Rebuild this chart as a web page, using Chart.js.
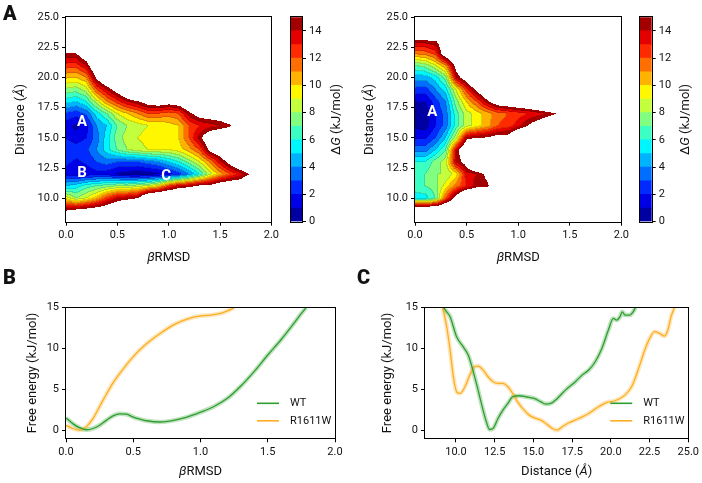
<!DOCTYPE html>
<html>
<head>
<meta charset="utf-8">
<script src="https://cdn.jsdelivr.net/npm/chart.js@4.4.1/dist/chart.umd.min.js"></script>
<style>
  body { margin: 0; background: #fff; }
  #wrap { position: relative; width: 702px; height: 483px; overflow: hidden; }
  #wrap canvas { position: absolute; }
  .panel { position: absolute; font-family: Roboto, 'Liberation Sans Narrow', sans-serif; font-weight: 900; font-size: 20px; line-height: 20px; color: #111; }
</style>
</head>
<body>
<div id="wrap">
  <canvas id="heatWT" width="282" height="268" style="left:0;top:0"></canvas>
  <canvas id="cbarWT" width="70" height="268" style="left:282px;top:0"></canvas>
  <canvas id="heatMut" width="282" height="268" style="left:350px;top:0"></canvas>
  <canvas id="cbarMut" width="70" height="268" style="left:632px;top:0"></canvas>
  <canvas id="lineRmsd" width="350" height="221" style="left:0;top:262px"></canvas>
  <canvas id="lineDist" width="352" height="221" style="left:350px;top:262px"></canvas>
  <div class="panel" style="left:3px;top:3px">A</div>
  <div class="panel" style="left:3px;top:267px">B</div>
  <div class="panel" style="left:357px;top:267px">C</div>
</div>
<script>
const FONT = "Roboto,'Liberation Sans Narrow',sans-serif";
Chart.defaults.font.family = FONT;
Chart.defaults.font.size = 11;
Chart.defaults.color = '#111';

// ---- free energy landscapes: rows are Distance (Å), columns are βRMSD ----
const rmsdCols = [0, 0.1, 0.2, 0.3, 0.4, 0.5, 0.6, 0.7, 0.8, 0.9, 1.0, 1.1, 1.2, 1.3, 1.4, 1.5, 1.6, 1.7, 1.8, 1.9, 2.0];
const distRows = [24, 23, 22, 21, 20, 19, 18, 17, 16, 15, 14, 13, 12, 11, 10, 9, 8];

// ΔG in kJ/mol, 20 = not sampled (white)
const wtGrid = [
  [20, 20, 20, 20, 20, 20, 20, 20, 20, 20, 20, 20, 20, 20, 20, 20, 20, 20, 20, 20, 20],
  [18, 18, 20, 20, 20, 20, 20, 20, 20, 20, 20, 20, 20, 20, 20, 20, 20, 20, 20, 20, 20],
  [15, 15, 17, 20, 20, 20, 20, 20, 20, 20, 20, 20, 20, 20, 20, 20, 20, 20, 20, 20, 20],
  [12.6, 12.5, 14, 18, 20, 20, 20, 20, 20, 20, 20, 20, 20, 20, 20, 20, 20, 20, 20, 20, 20],
  [10.2, 10, 11, 15.5, 18, 20, 20, 20, 20, 20, 20, 20, 20, 20, 20, 20, 20, 20, 20, 20, 20],
  [7.8, 7.5, 8.5, 12, 14, 16, 18, 20, 20, 20, 20, 20, 20, 20, 20, 20, 20, 20, 20, 20, 20],
  [5.4, 5, 6, 8.5, 11, 12.5, 14, 14.8, 16, 16.5, 16, 16.5, 18, 20, 20, 20, 20, 20, 20, 20, 20],
  [2.8, 2.4, 3.2, 5.5, 7, 9, 10, 11, 12, 12, 11.5, 12, 14.5, 16, 16.3, 16.5, 17, 20, 20, 20, 20],
  [1.4, 0.7, 1.6, 4, 5, 7, 8, 8.5, 9, 9, 9.5, 10, 12, 13, 13.5, 14, 14.8, 17, 20, 20, 20],
  [1.9, 1.5, 2, 3.5, 5.5, 7.5, 8.5, 9, 9.5, 9.5, 9.5, 10, 12, 14.5, 17, 18, 18, 20, 20, 20, 20],
  [2.8, 2.5, 2.8, 4, 5.5, 7, 8, 8.5, 9, 9, 9, 9.5, 10.5, 12, 15.5, 17, 19, 20, 20, 20, 20],
  [2.2, 1.8, 2.2, 3, 3.5, 3, 3, 3, 3.5, 4, 5, 6, 7.5, 9, 11, 13.5, 16, 18, 20, 20, 20],
  [1.6, 1.2, 1.3, 1.6, 1.4, 0.8, 0.5, 0.3, 0.5, 0.8, 1.5, 2.5, 4, 6, 8.5, 10.5, 12, 13.5, 15.2, 18, 20],
  [5, 5.5, 6.5, 7, 7.5, 8, 8, 8.5, 9, 10, 12.5, 14, 14.5, 15.5, 15.7, 16.9, 17.5, 17, 20, 20, 20],
  [9.5, 8, 9, 10.5, 12.5, 14, 14.5, 15, 19, 20, 20, 20, 20, 20, 20, 20, 20, 20, 20, 20, 20],
  [14.8, 15.5, 16, 16.5, 17, 18, 19, 20, 20, 20, 20, 20, 20, 20, 20, 20, 20, 20, 20, 20, 20],
  [20, 20, 20, 20, 20, 20, 20, 20, 20, 20, 20, 20, 20, 20, 20, 20, 20, 20, 20, 20, 20]
];
const mutGrid = [
  [20, 20, 20, 20, 20, 20, 20, 20, 20, 20, 20, 20, 20, 20, 20, 20, 20, 20, 20, 20, 20],
  [14.5, 14.5, 14.8, 17, 20, 20, 20, 20, 20, 20, 20, 20, 20, 20, 20, 20, 20, 20, 20, 20, 20],
  [11.3, 11.5, 12.5, 17, 19, 20, 20, 20, 20, 20, 20, 20, 20, 20, 20, 20, 20, 20, 20, 20, 20],
  [7, 7.5, 9, 11, 16, 19, 20, 20, 20, 20, 20, 20, 20, 20, 20, 20, 20, 20, 20, 20, 20],
  [4.5, 4.5, 5.5, 7.5, 14, 16.5, 20, 20, 20, 20, 20, 20, 20, 20, 20, 20, 20, 20, 20, 20, 20],
  [2.7, 2.5, 4, 5.5, 9, 12.5, 15.5, 18, 20, 20, 20, 20, 20, 20, 20, 20, 20, 20, 20, 20, 20],
  [1, 1, 2.5, 4, 7.5, 10, 12, 14.5, 16.5, 17, 17.5, 18, 19, 20, 20, 20, 20, 20, 20, 20, 20],
  [0.5, 0.3, 2, 3.5, 6.5, 8.5, 9.5, 10.5, 11.5, 12, 12.5, 13, 13.5, 14.2, 15.3, 20, 20, 20, 20, 20, 20],
  [0.8, 0.5, 2, 3.5, 6.5, 8.5, 9.5, 10.5, 12, 12.5, 13.5, 15.2, 16.5, 18, 20, 20, 20, 20, 20, 20, 20],
  [1.8, 1.8, 3, 5, 8.5, 14.5, 15, 15.2, 16, 15.8, 19, 20, 20, 20, 20, 20, 20, 20, 20, 20, 20],
  [3.5, 3.5, 5, 7, 14, 18, 20, 20, 20, 20, 20, 20, 20, 20, 20, 20, 20, 20, 20, 20, 20],
  [6, 6, 7.5, 8.5, 14, 16, 20, 20, 20, 20, 20, 20, 20, 20, 20, 20, 20, 20, 20, 20, 20],
  [7, 7, 8, 8, 9.5, 13.5, 14, 15.5, 20, 20, 20, 20, 20, 20, 20, 20, 20, 20, 20, 20, 20],
  [6.5, 7, 7.5, 9.5, 11.5, 13, 14.5, 14.6, 17, 20, 20, 20, 20, 20, 20, 20, 20, 20, 20, 20, 20],
  [5.5, 5.5, 7, 12, 16, 20, 20, 20, 20, 20, 20, 20, 20, 20, 20, 20, 20, 20, 20, 20, 20],
  [19, 19, 19, 20, 20, 20, 20, 20, 20, 20, 20, 20, 20, 20, 20, 20, 20, 20, 20, 20, 20],
  [20, 20, 20, 20, 20, 20, 20, 20, 20, 20, 20, 20, 20, 20, 20, 20, 20, 20, 20, 20, 20]
];

const levelBounds = [0, 1, 2, 3, 4, 5, 6, 7, 8, 9, 10, 11, 12, 13, 14, 15];
const cbarTicks = [0, 2, 4, 6, 8, 10, 12, 14];
const rmsdTicks = [0, 0.5, 1.0, 1.5, 2.0];
const distTicks = [10, 12.5, 15, 17.5, 20, 22.5, 25];
const energyTicks = [0, 5, 10, 15];

// ---- 1D free energy profiles ----
const seriesNames = ['WT', 'R1611W'];
const wtRmsdX = [0, 0.05, 0.1, 0.15, 0.2, 0.25, 0.3, 0.35, 0.4, 0.45, 0.5, 0.55, 0.6, 0.7, 0.8, 0.9, 1.0, 1.1, 1.2, 1.3, 1.4, 1.5, 1.6, 1.7, 1.75, 1.785];
const wtRmsdG = [1.5, 0.8, 0.3, 0.05, 0.2, 0.6, 1.2, 1.75, 2.0, 1.95, 1.6, 1.35, 1.15, 1.0, 1.2, 1.6, 2.2, 2.9, 3.9, 5.4, 7.2, 9.2, 11.1, 13.2, 14.3, 15.0];
const mutRmsdX = [0, 0.05, 0.1, 0.15, 0.2, 0.25, 0.3, 0.35, 0.4, 0.5, 0.6, 0.7, 0.8, 0.9, 1.0, 1.05, 1.1, 1.15, 1.2, 1.25];
const mutRmsdG = [0.6, 0.2, 0.0, 0.4, 1.4, 2.9, 4.4, 5.8, 6.95, 9.0, 10.6, 11.85, 12.9, 13.6, 14.0, 14.05, 14.15, 14.3, 14.6, 15.0];
const wtDistX = [9.2, 9.4, 9.62, 10.04, 10.47, 10.79, 11.0, 11.32, 11.64, 11.96, 12.17, 12.39, 12.71, 13.03, 13.35, 13.66, 14.09, 14.52, 15.05, 15.48, 15.8, 16.12, 16.54, 17.07, 17.71, 18.14, 18.57, 18.99, 19.42, 19.84, 20.16, 20.38, 20.59, 20.74, 20.91, 21.23, 21.44, 21.59];
const wtDistG = [15, 14.5, 13.9, 11.44, 10.2, 9.2, 7.97, 5.72, 3.27, 1.02, 0.08, 0.2, 1.43, 2.45, 3.27, 4.09, 4.21, 4.09, 3.88, 3.47, 3.19, 3.27, 3.88, 4.9, 5.93, 6.74, 7.36, 8.38, 10.0, 12.26, 13.69, 13.48, 13.9, 14.5, 14.1, 14.1, 14.5, 15];
const mutDistX = [9.15, 9.4, 9.62, 9.83, 10.04, 10.26, 10.58, 10.89, 11.21, 11.43, 11.75, 12.07, 12.39, 12.71, 13.03, 13.35, 13.66, 13.98, 14.3, 14.73, 15.16, 15.48, 15.8, 16.22, 16.54, 16.86, 17.29, 17.93, 18.57, 19.21, 19.74, 20.27, 20.91, 21.34, 21.76, 22.19, 22.51, 22.83, 23.15, 23.47, 23.68, 23.89, 24.1];
const mutDistG = [15, 12.67, 9.81, 6.54, 4.7, 4.5, 5.31, 6.74, 7.76, 7.85, 7.36, 6.54, 5.93, 5.72, 5.72, 5.31, 4.5, 3.47, 2.66, 1.84, 1.43, 1.23, 0.82, 0.2, 0, 0.41, 0.9, 1.43, 2.04, 2.86, 3.39, 3.6, 4.29, 5.31, 7.36, 9.81, 11.24, 12.06, 11.85, 11.52, 12.26, 13.9, 15];

const GREEN = '#2e9e2e';
const ORANGE = '#fdae22';

function jet(t) {
  const c = v => Math.round(255 * Math.max(0, Math.min(1, v)));
  return [c(1.5 - Math.abs(4 * t - 3)), c(1.5 - Math.abs(4 * t - 2)), c(1.5 - Math.abs(4 * t - 1))];
}
const nLevels = levelBounds.length - 1;
const levelRGB = levelBounds.slice(0, -1).map((lo, i) => jet((i + 0.5) / nLevels));

function sampleGrid(grid, xv, yv) {
  const dx = rmsdCols[1] - rmsdCols[0], dy = distRows[0] - distRows[1];
  let fx = (xv - rmsdCols[0]) / dx, fy = (distRows[0] - yv) / dy;
  fx = Math.max(0, Math.min(rmsdCols.length - 1.0001, fx));
  fy = Math.max(0, Math.min(distRows.length - 1.0001, fy));
  const i = Math.floor(fx), j = Math.floor(fy), tx = fx - i, ty = fy - j;
  const top = grid[j][i] * (1 - tx) + grid[j][i + 1] * tx;
  const bot = grid[j + 1][i] * (1 - tx) + grid[j + 1][i + 1] * tx;
  return top * (1 - ty) + bot * ty;
}

// filled contours, sampled per pixel through the chart scales
function contourPlugin(grid) {
  return {
    id: 'contour',
    beforeDatasetsDraw(chart) {
      const { ctx, chartArea: a, scales: { x, y } } = chart;
      const x0 = Math.round(a.left), y0 = Math.round(a.top);
      const w = Math.round(a.right) - x0, h = Math.round(a.bottom) - y0;
      const lev = new Int16Array(w * h);
      for (let j = 0; j < h; j++) {
        const yv = y.getValueForPixel(y0 + j + 0.5);
        for (let i = 0; i < w; i++) {
          const v = sampleGrid(grid, x.getValueForPixel(x0 + i + 0.5), yv);
          lev[j * w + i] = v >= levelBounds[nLevels] ? -1 : Math.max(0, Math.floor(v));
        }
      }
      const off = document.createElement('canvas');
      off.width = w; off.height = h;
      const octx = off.getContext('2d');
      const img = octx.createImageData(w, h);
      for (let k = 0; k < w * h; k++) {
        const L = lev[k];
        if (L < 0) continue;
        const i = k % w;
        const r = i + 1 < w ? lev[k + 1] : L;
        const b = k + w < w * h ? lev[k + w] : L;
        const edge = (r >= 0 && r !== L) || (b >= 0 && b !== L);
        const f = edge ? 0.86 : 1;
        const c = levelRGB[L];
        img.data[k * 4] = c[0] * f;
        img.data[k * 4 + 1] = c[1] * f;
        img.data[k * 4 + 2] = c[2] * f;
        img.data[k * 4 + 3] = 255;
      }
      octx.putImageData(img, 0, 0);
      ctx.drawImage(off, x0, y0);
    }
  };
}

function basinLabels(names, xs, ys) {
  return {
    id: 'basins',
    afterDatasetsDraw(chart) {
      const { ctx, scales: { x, y } } = chart;
      ctx.save();
      ctx.font = 'bold 15px ' + FONT;
      ctx.fillStyle = '#fff';
      ctx.textAlign = 'center';
      ctx.textBaseline = 'middle';
      names.forEach((n, i) => ctx.fillText(n, x.getPixelForValue(xs[i]), y.getPixelForValue(ys[i])));
      ctx.restore();
    }
  };
}

const framePlugin = {
  id: 'frame',
  afterDatasetsDraw(chart) {
    const { ctx, chartArea: a } = chart;
    ctx.save();
    ctx.strokeStyle = '#000';
    ctx.lineWidth = 1;
    ctx.strokeRect(Math.round(a.left) - 0.5, Math.round(a.top) - 0.5, Math.round(a.right) - Math.round(a.left) + 1, Math.round(a.bottom) - Math.round(a.top) + 1);
    ctx.restore();
  }
};

// axis title with an italic math symbol, drawn rotated or flat
function mixedTitle(parts, cx, cy, rotate) {
  return {
    id: 'mixedTitle',
    afterDraw(chart) {
      const { ctx, chartArea: a } = chart;
      ctx.save();
      ctx.translate(cx(a), cy(a));
      if (rotate) ctx.rotate(-Math.PI / 2);
      ctx.fillStyle = '#111';
      ctx.textBaseline = 'middle';
      let total = 0;
      parts.forEach(p => { ctx.font = p[1] + '13px ' + FONT; total += ctx.measureText(p[0]).width; });
      let xx = -total / 2;
      parts.forEach(p => { ctx.font = p[1] + '13px ' + FONT; ctx.fillText(p[0], xx, 0); xx += ctx.measureText(p[0]).width; });
      ctx.restore();
    }
  };
}
const dgParts = [['Δ', ''], ['G', 'italic '], [' (kJ/mol)', '']];
const rmsdParts = [['β', 'italic '], ['RMSD', '']];
const distParts = [['Distance (', ''], ['Å', 'italic '], [')', '']];

function innerLegend(colors) {
  return {
    id: 'innerLegend',
    afterDatasetsDraw(chart) {
      const { ctx, chartArea: a } = chart;
      ctx.save();
      ctx.font = '11px ' + FONT;
      ctx.textBaseline = 'middle';
      seriesNames.forEach((n, i) => {
        const yy = a.bottom - 35 + i * 17.5;
        const xx = a.right - 78;
        ctx.strokeStyle = colors[i];
        ctx.lineWidth = 1.6;
        ctx.beginPath(); ctx.moveTo(xx, yy); ctx.lineTo(xx + 22, yy); ctx.stroke();
        ctx.fillStyle = '#111';
        ctx.fillText(n, xx + 33, yy);
      });
      ctx.restore();
    }
  };
}

const tickGrid = { display: true, drawOnChartArea: false, drawTicks: true, tickLength: 4, tickWidth: 1, tickColor: '#000' };
const titleFont = { size: 13 };
const fixed = arr => s => { s.ticks = arr.map(v => ({ value: v })); };

function heatChart(id, grid, yWidth, rightPad, marks) {
  return new Chart(document.getElementById(id), {
    type: 'scatter',
    data: { datasets: [{ data: [] }] },
    options: {
      responsive: false, animation: false, devicePixelRatio: 1,
      layout: { padding: { top: 17.3, right: rightPad, left: 0, bottom: 0 } },
      plugins: { legend: { display: false }, tooltip: { enabled: false } },
      scales: {
        x: {
          type: 'linear', min: 0, max: 2,
          afterBuildTicks: fixed(rmsdTicks),
          afterFit: s => { s.height = 46.3; },
          ticks: { callback: v => Number(v).toFixed(1), padding: 3, maxRotation: 0 },
          grid: tickGrid, border: { display: false }
        },
        y: {
          type: 'linear', min: 8.05, max: 25,
          afterBuildTicks: fixed(distTicks),
          afterFit: s => { s.width = yWidth; },
          ticks: { callback: v => Number(v).toFixed(1), padding: 3 },
          grid: tickGrid, border: { display: false }
        }
      }
    },
    plugins: [contourPlugin(grid), framePlugin, marks,
      mixedTitle(rmsdParts, a => (a.left + a.right) / 2, a => 258, false),
      mixedTitle(distParts, a => a.left - 45, a => (a.top + a.bottom) / 2, true)]
  });
}

function cbarChart(id, leftPad, axisW, labelX) {
  return new Chart(document.getElementById(id), {
    type: 'bar',
    data: {
      labels: [''],
      datasets: levelRGB.map((c, i) => ({
        data: [[levelBounds[i], levelBounds[i + 1]]],
        backgroundColor: 'rgb(' + c.join(',') + ')',
        borderWidth: 0, barPercentage: 1, categoryPercentage: 1, grouped: false
      }))
    },
    options: {
      responsive: false, animation: false, devicePixelRatio: 1,
      layout: { padding: { top: 17.3, bottom: 46.3, left: leftPad, right: 0 } },
      plugins: { legend: { display: false }, tooltip: { enabled: false } },
      scales: {
        x: { display: false },
        y: {
          position: 'right', min: 0, max: 15,
          afterBuildTicks: fixed(cbarTicks),
          afterFit: s => { s.width = axisW; },
          ticks: { padding: 3 },
          grid: tickGrid, border: { display: false }
        }
      }
    },
    plugins: [framePlugin, mixedTitle(dgParts, a => labelX, a => (a.top + a.bottom) / 2, true)]
  });
}

function profileChart(id, wtX, wtG, mutX, mutG, xMin, xMax, xTicks, yWidth, rightPad, yTitleX, xParts) {
  const pts = (xs, gs) => xs.map((x, i) => ({ x: x, y: gs[i] }));
  const common = { pointRadius: 0, cubicInterpolationMode: 'monotone', fill: false };
  return new Chart(document.getElementById(id), {
    type: 'line',
    data: {
      datasets: [
        Object.assign({ label: seriesNames[0], data: pts(wtX, wtG), borderColor: GREEN, borderWidth: 1.3, order: 0 }, common),
        Object.assign({ label: seriesNames[1], data: pts(mutX, mutG), borderColor: ORANGE, borderWidth: 1.3, order: 0 }, common),
        Object.assign({ label: seriesNames[0] + ' band', data: pts(wtX, wtG), borderColor: 'rgba(46,158,46,0.3)', borderWidth: 4.5, order: 1 }, common),
        Object.assign({ label: seriesNames[1] + ' band', data: pts(mutX, mutG), borderColor: 'rgba(253,174,34,0.3)', borderWidth: 4.5, order: 1 }, common)
      ]
    },
    options: {
      responsive: false, animation: false, devicePixelRatio: 1,
      layout: { padding: { top: 45.7, right: rightPad, left: 0, bottom: 0 } },
      plugins: { legend: { display: false }, tooltip: { enabled: false } },
      scales: {
        x: {
          type: 'linear', min: xMin, max: xMax,
          afterBuildTicks: fixed(xTicks),
          afterFit: s => { s.height = 44.7; },
          ticks: { callback: v => Number(v).toFixed(1), padding: 3, maxRotation: 0 },
          grid: tickGrid, border: { display: false }
        },
        y: {
          type: 'linear', min: -1, max: 15,
          afterBuildTicks: fixed(energyTicks),
          afterFit: s => { s.width = yWidth; },
          ticks: { padding: 3 },
          grid: tickGrid, border: { display: false },
          title: { display: true, text: 'Free energy (kJ/mol)', font: titleFont, padding: { top: yTitleX - 7.8, bottom: 0 } }
        }
      }
    },
    plugins: [framePlugin, innerLegend([GREEN, ORANGE]),
      mixedTitle(xParts, a => (a.left + a.right) / 2, a => 209.7, false)]
  });
}

heatChart('heatWT', wtGrid, 66, 4, basinLabels(['A', 'B', 'C'], [0.157, 0.157, 0.975], [16.27, 12.07, 11.85]));
cbarChart('cbarWT', 9, 50, 55);
heatChart('heatMut', mutGrid, 65, 5, basinLabels(['A'], [0.167], [17.1]));
cbarChart('cbarMut', 8, 50.3, 54);
profileChart('lineRmsd', wtRmsdX, wtRmsdG, mutRmsdX, mutRmsdG, 0, 2, rmsdTicks, 66, 15, 33, rmsdParts);
profileChart('lineDist', wtDistX, wtDistG, mutDistX, mutDistG, 8, 25, distTicks, 75, 11.3, 38, distParts);
</script>
</body>
</html>
